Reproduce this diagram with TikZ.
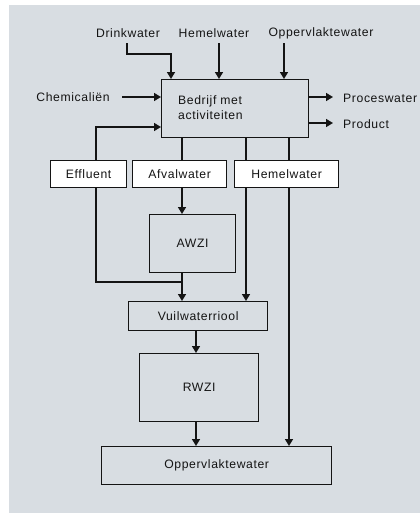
\documentclass[tikz,border=0pt]{standalone}
\usepackage{fontspec}
\setmainfont{Liberation Sans}[LetterSpace=5]
\usetikzlibrary{arrows.meta}
\definecolor{bg}{RGB}{216,221,226}
\definecolor{ink}{RGB}{20,20,20}
\begin{document}
\begin{tikzpicture}[x=1pt,y=-1pt,
  font=\fontsize{12.2}{14.5}\selectfont,
  box/.style={draw=ink,line width=1.3pt,inner sep=0pt,anchor=north west},
  wbox/.style={box,fill=white},
  flow/.style={draw=ink,line width=1.6pt,-{Triangle[length=7pt,width=8pt]}},
  line/.style={draw=ink,line width=1.6pt},
  lbl/.style={text=ink,inner sep=0pt}]
\useasboundingbox (0,0) rectangle (420,514);
\fill[bg] (9,5) rectangle (420,513);
% boxes
\node[box,minimum width=147pt,minimum height=58pt] (main) at (161,79) {};
\node[lbl,anchor=west,align=left] (maintxt) at (178,107.5) {Bedrijf met\\activiteiten};
\node[wbox,minimum width=76pt,minimum height=27pt] (eff) at (50,160) {};
\node[wbox,minimum width=94pt,minimum height=27pt] (afv) at (132,160) {};
\node[wbox,minimum width=104pt,minimum height=27pt] (hem) at (234,160) {};
\node[box,minimum width=86pt,minimum height=58pt] (awzi) at (149,214) {};
\node[box,minimum width=139pt,minimum height=29pt] (vuil) at (128,301) {};
\node[box,minimum width=119pt,minimum height=68pt] (rwzi) at (139,353) {};
\node[box,minimum width=230pt,minimum height=38pt] (opp) at (101,446) {};
% box labels
\node[lbl] at (eff.center) {Effluent};
\node[lbl] at (afv.center) {Afvalwater};
\node[lbl] at (hem.center) {Hemelwater};
\node[lbl] at (awzi.center) {AWZI};
\node[lbl] at (vuil.center) {Vuilwaterriool};
\node[lbl] at (rwzi.center) {RWZI};
\node[lbl] at (opp.center) {Oppervlaktewater};
% input labels
\node[lbl] (drink) at (128,33) {Drinkwater};
\node[lbl] (hemtop) at (214,33) {Hemelwater};
\node[lbl] (opptop) at (321,33) {Oppervlaktewater};
\node[lbl] (chem) at (73,97) {Chemicaliën};
\node[lbl,anchor=west] (proc) at (343,98) {Proceswater};
\node[lbl,anchor=west] (prod) at (343,124) {Product};
% coordinates
\coordinate (d0) at (127,43);
\coordinate (d1) at (127,54);
\coordinate (d2) at (171,54);
% top inputs
\draw[flow] (d0) -- (d1) -- (d2) -- (d2 |- main.north);
\draw[flow] (219,43) -- (219,79);
\draw[flow] (284,43) -- (284,79);
\draw[flow] (122,97) -- (main.west |- 0,97);
\draw[flow] (main.east |- 0,97) -- (333,97);
\draw[flow] (main.east |- 0,123) -- (333,123);
% effluent feedback
\draw[flow] (eff.north -| 96,0) -- (96,127) -- (main.west |- 0,127);
% down lines
\draw[line] (main.south -| 182,0) -- (afv.north -| 182,0);
\draw[line] (main.south -| 246,0) -- (hem.north -| 246,0);
\draw[line] (main.south -| 289,0) -- (hem.north -| 289,0);
\draw[flow] (afv.south -| 182,0) -- (awzi.north -| 182,0);
\draw[flow] (awzi.south -| 182,0) -- (vuil.north -| 182,0);
\draw[line] (eff.south -| 96,0) -- (96,282) -- (182,282);
\draw[flow] (hem.south -| 246,0) -- (vuil.north -| 246,0);
\draw[flow] (hem.south -| 289,0) -- (opp.north -| 289,0);
\draw[flow] (vuil.south -| 196,0) -- (rwzi.north -| 196,0);
\draw[flow] (rwzi.south -| 196,0) -- (opp.north -| 196,0);
\end{tikzpicture}
\end{document}
